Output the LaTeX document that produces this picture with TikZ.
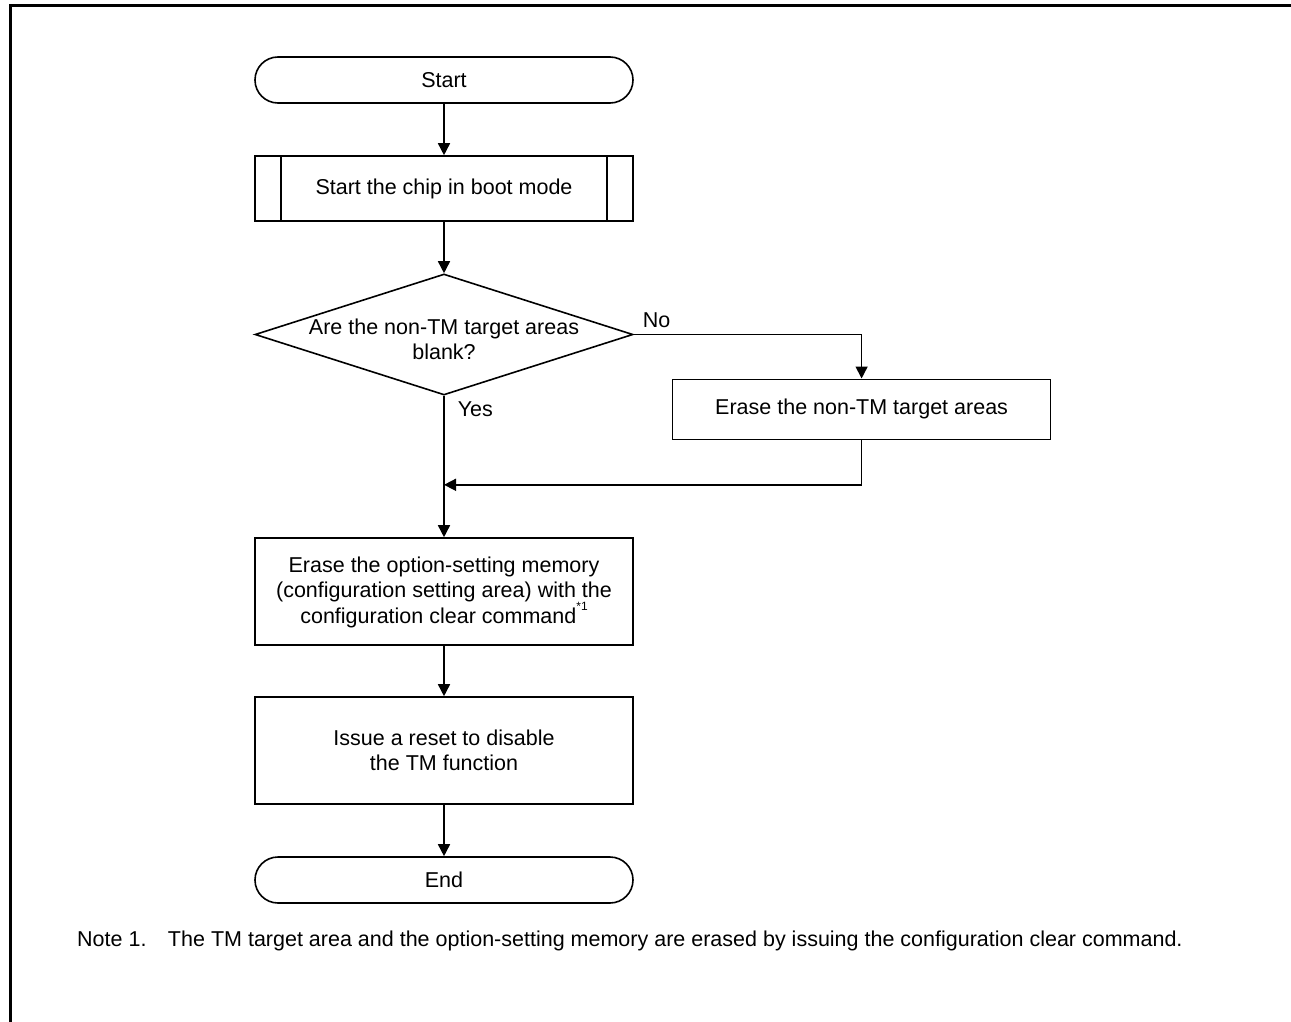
\documentclass[tikz,border=0pt]{standalone}
\usepackage{fontspec}
\setmainfont{Liberation Sans}
\usepackage{tikz}
\usetikzlibrary{arrows.meta,shapes.geometric,shapes.misc,positioning,calc}
\newcommand{\flowfont}{\fontsize{21.5pt}{25pt}\selectfont}
\newcommand{\notemark}[1]{\raisebox{1.1ex}{\fontsize{12pt}{12pt}\selectfont #1}}
\tikzset{
  >={Triangle[length=12pt,width=12pt]},
  node distance=51.4pt,
  box/.style={
    draw,
    line width=1.6pt,
    minimum width=378pt,
    inner sep=0pt,
    align=center,
    font=\flowfont
  },
  terminal/.style={box, rounded rectangle, minimum height=46pt},
  process/.style={box, rectangle},
  predef/.style={process, minimum height=65pt},
  decision/.style={box, diamond, minimum height=121pt},
  arrow/.style={->, line width=1.6pt},
  link/.style={line width=1.6pt},
  tag/.style={font=\flowfont, inner sep=0pt}
}

\begin{document}
\begin{tikzpicture}[x=1pt, y=-1pt]
  \useasboundingbox (0,0) rectangle (1291,1022);
  % frame
  \draw[line width=3pt] (10.5,1030) -- (10.5,5.5) -- (1300,5.5);

  \node[terminal] (start) at (444,80) {Start};
  \node[predef, below=of start] (boot) {Start the chip in boot mode};
  \node[decision, below=of boot,
        label={[tag, align=center, yshift=-5pt]center:Are the non-TM target areas\\blank?}] (check) {};
  \node[process, minimum height=60pt, below right=44pt and 38pt of check.east] (erase) {Erase the non-TM target areas};
  \node[process, minimum height=107pt, below=141.4pt of check, text depth=3pt] (optset)
    {Erase the option-setting memory\\(configuration setting area) with the\\configuration clear command\notemark{*1}};
  \node[process, minimum height=107pt, below=50.4pt of optset] (reset) {Issue a reset to disable\\the TM function};
  \node[terminal, below=of reset] (end) {End};
  \coordinate[below=89pt of check.south] (join);

  % side lines of the predefined process
  \draw[link] ([xshift=27pt]boot.north west) -- ([xshift=27pt]boot.south west);
  \draw[link] ([xshift=-27pt]boot.north east) -- ([xshift=-27pt]boot.south east);

  \draw[arrow] (start) -- (boot);
  \draw[arrow] (boot) -- (check);
  \draw[arrow] (check.east) -| (erase.north) node[tag, pos=0.05, above, yshift=6pt] {No};
  \draw[arrow] (erase.south) |- (join);
  \draw[arrow] (check.south) -- (optset.north) node[tag, pos=0, anchor=north west, xshift=13pt, yshift=-5pt] {Yes};
  \draw[arrow] (optset) -- (reset);
  \draw[arrow] (reset) -- (end);

  \node[tag, anchor=west] (note) at (77,941)
    {Note 1.\quad The TM target area and the option-setting memory are erased by issuing the configuration clear command.};
\end{tikzpicture}
\end{document}
